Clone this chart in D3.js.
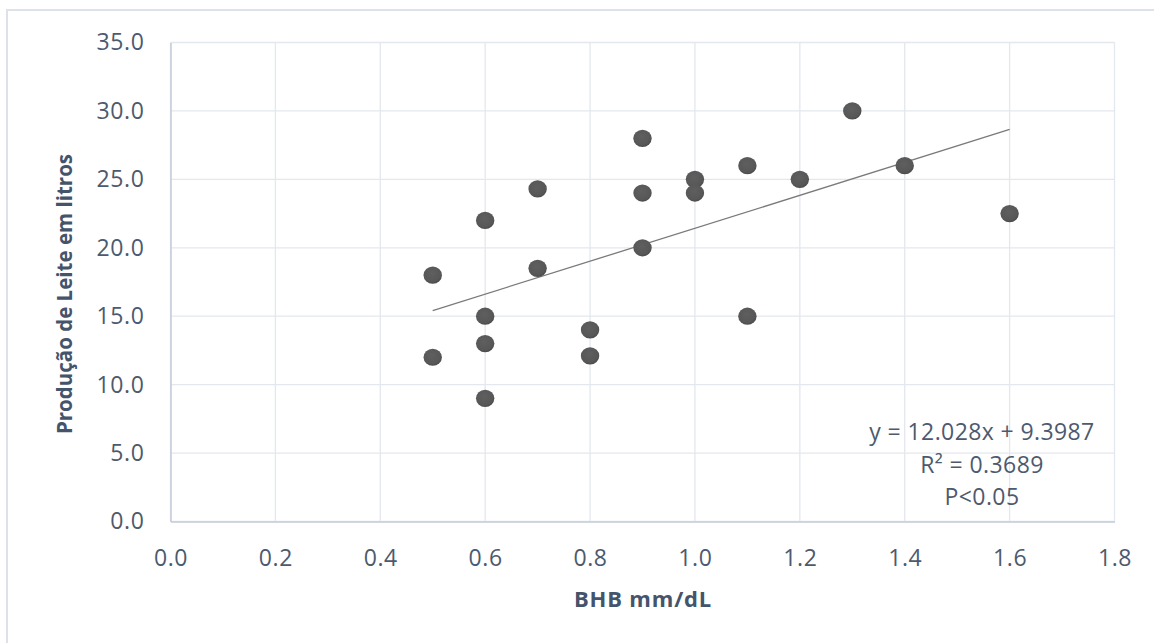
<!DOCTYPE html>
<html><head><meta charset="utf-8">
<script src="https://cdn.jsdelivr.net/npm/d3@7"></script>
<style>html,body{margin:0;padding:0;background:#fff;}svg{display:block;}</style>
</head><body>
<svg id="c" width="1154" height="643"></svg>
<script>
const bhb = [0.5,0.5,0.6,0.6,0.6,0.6,0.7,0.7,0.8,0.8,0.9,0.9,0.9,1.0,1.0,1.1,1.1,1.2,1.3,1.4,1.6];
const leite = [18,12,22,15,13,9,24.3,18.5,14,12.1,28,24,20,25,24,26,15,25,30,26,22.5];
const xTicks = [0,0.2,0.4,0.6,0.8,1.0,1.2,1.4,1.6,1.8];
const yTicks = [0,5,10,15,20,25,30,35];
const slope = 12.028, intercept = 9.3987;
const trendX = [0.5, 1.6];
const eqLines = ["y = 12.028x + 9.3987", "R² = 0.3689", "P<0.05"];
const xTitle = "BHB mm/dL";
const yTitle = "Produção de Leite em litros";

const svg = d3.select("#c");
const font = "'Open Sans', sans-serif";
const txt = "#4d5a6e";
const grid = "#e3e7ee";

svg.append("rect").attr("x",7).attr("y",10).attr("width",1160).attr("height",650)
  .attr("fill","none").attr("stroke","#dde2ea").attr("stroke-width",2);

const x = d3.scaleLinear().domain([0,1.8]).range([170.5,1114.5]);
const y = d3.scaleLinear().domain([0,35]).range([521.5,42.5]);

// grid
svg.append("g").selectAll("line").data(xTicks).join("line")
  .attr("x1",d=>x(d)).attr("x2",d=>x(d)).attr("y1",y(0)).attr("y2",y(35))
  .attr("stroke",grid).attr("stroke-width",1.3);
svg.append("g").selectAll("line").data(yTicks).join("line")
  .attr("x1",x(0)).attr("x2",x(1.8)).attr("y1",d=>y(d)).attr("y2",d=>y(d))
  .attr("stroke",grid).attr("stroke-width",1.3);

// axes
const xAxis = svg.append("g").attr("transform",`translate(0,${y(0)})`)
  .call(d3.axisBottom(x).tickValues(xTicks).tickFormat(d3.format(".1f")).tickSize(0).tickPadding(28));
xAxis.select(".domain").attr("stroke","#c5ccd8").attr("stroke-width",1.5);
xAxis.selectAll("text").attr("fill",txt).attr("font-family",font).attr("font-size",23)
  .attr("letter-spacing","0.6px").attr("dy","0.71em");
const yAxis = svg.append("g").attr("transform",`translate(${x(0)},0)`)
  .call(d3.axisLeft(y).tickValues(yTicks).tickFormat(d3.format(".1f")).tickSize(0).tickPadding(26));
yAxis.select(".domain").attr("stroke","#c5ccd8").attr("stroke-width",1.5);
yAxis.selectAll("text").attr("fill",txt).attr("font-family",font).attr("font-size",23)
  .attr("letter-spacing","0.6px");

// trendline
svg.append("line")
  .attr("x1",x(trendX[0])).attr("y1",y(slope*trendX[0]+intercept))
  .attr("x2",x(trendX[1])).attr("y2",y(slope*trendX[1]+intercept))
  .attr("stroke","#7a7a7a").attr("stroke-width",1.3);

// points
const defs = svg.append("defs");
const g = defs.append("radialGradient").attr("id","pt").attr("cx","45%").attr("cy","40%").attr("r","60%");
g.append("stop").attr("offset","0%").attr("stop-color","#5f5f5f");
g.append("stop").attr("offset","80%").attr("stop-color","#575757");
g.append("stop").attr("offset","100%").attr("stop-color","#4a4a4a");
svg.append("g").selectAll("ellipse").data(bhb.map((b,i)=>[b,leite[i]])).join("ellipse")
  .attr("cx",d=>x(d[0])).attr("cy",d=>y(d[1])).attr("rx",9.2).attr("ry",8.6)
  .attr("fill","url(#pt)");

// equation
svg.append("g").selectAll("text").data(eqLines).join("text")
  .attr("x",982).attr("y",(d,i)=>440+i*32.5).attr("text-anchor","middle")
  .attr("font-family",font).attr("font-size",23).attr("letter-spacing","0.4px").attr("fill",txt).text(d=>d);

// titles
svg.append("text").attr("x",643).attr("y",607).attr("text-anchor","middle")
  .attr("font-family",font).attr("font-weight","bold").attr("font-size",22).attr("letter-spacing","0.8px")
  .attr("fill","#44546a").text(xTitle);
svg.append("text").attr("transform","translate(72,294) rotate(-90)").attr("text-anchor","middle")
  .attr("font-family",font).attr("font-weight","bold").attr("font-size",20.5).attr("fill","#44546a").text(yTitle);
</script>
</body></html>
